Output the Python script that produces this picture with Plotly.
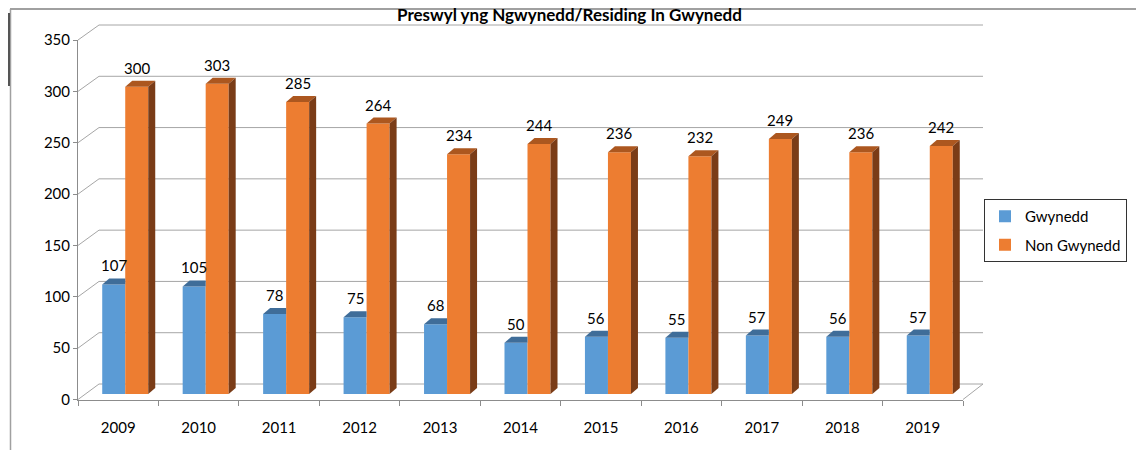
import plotly.graph_objects as go

# ---------------- data ----------------
years = ["2009", "2010", "2011", "2012", "2013", "2014", "2015", "2016", "2017", "2018", "2019"]
gwynedd = [107, 105, 78, 75, 68, 50, 56, 55, 57, 56, 57]
non_gwynedd = [300, 303, 285, 264, 234, 244, 236, 232, 249, 236, 242]
y_ticks = [0, 50, 100, 150, 200, 250, 300, 350]
series_names = ["Gwynedd", "Non Gwynedd"]
title_text = "Preswyl yng Ngwynedd/Residing In Gwynedd"

# ---------------- geometry (pixels) ----------------
W, H = 1136, 450
FONT = "Lato"
FS = 15


def px(x):
    return x / W


def py(y):
    return 1 - y / H


YMAX = 350
FRONT_L, FRONT_R = 78, 963      # front x-axis
FRONT_ZERO, FRONT_TOP = 399.5, 40   # front y-axis (0 and 350)
BACK_L, BACK_R = 99, 983        # back wall
BACK_ZERO, BACK_TOP = 384, 25
BAR_SHIFT = 7                   # bars sit 1/3 into the depth
BAR_ZERO, BAR_TOP = 394, 35.5
DEPTH_X, DEPTH_Y = 7, 6         # visible depth of each bar
BAR_W = 0.286

n = len(years)
idx = list(range(n))
cat_px = (FRONT_R - FRONT_L) / n
dx = DEPTH_X / cat_px
dy = DEPTH_Y * YMAX / (BAR_ZERO - BAR_TOP)

BLUE, BLUE_TOP = "#5B9BD5", "#3F6D99"
ORANGE, ORANGE_TOP, ORANGE_SIDE = "#ED7D31", "#AC571F", "#7A3C17"
GRID = "#A6A6A6"
AXIS = "#8C8C8C"


def fy(v):
    return FRONT_ZERO - v * (FRONT_ZERO - FRONT_TOP) / YMAX


def by(v):
    return BACK_ZERO - v * (BACK_ZERO - BACK_TOP) / YMAX


fig = go.Figure()

fig.add_trace(go.Bar(
    x=idx, y=gwynedd, name=series_names[0], width=BAR_W, offset=-BAR_W,
    marker=dict(color=BLUE, line=dict(width=0)), xaxis="x", yaxis="y",
    legendgroup="g1", hovertext=years,
))
fig.add_trace(go.Bar(
    x=idx, y=non_gwynedd, name=series_names[1], width=BAR_W, offset=0,
    marker=dict(color=ORANGE, line=dict(width=0)), xaxis="x", yaxis="y",
    legendgroup="g2", hovertext=years,
))
# invisible carrier trace for the front (labelled) axes
fig.add_trace(go.Scatter(
    x=years, y=gwynedd, mode="markers", marker=dict(opacity=0),
    xaxis="x2", yaxis="y2", showlegend=False, hoverinfo="skip",
))

shapes = []
# back wall gridlines + left wall diagonals
for v in y_ticks:
    shapes.append(dict(type="line", xref="paper", yref="paper",
                       x0=px(BACK_L), x1=px(BACK_R), y0=py(by(v)), y1=py(by(v)),
                       line=dict(color=GRID, width=1), layer="below"))
    shapes.append(dict(type="line", xref="paper", yref="paper",
                       x0=px(FRONT_L), x1=px(BACK_L), y0=py(fy(v)), y1=py(by(v)),
                       line=dict(color=GRID, width=1), layer="below"))
# floor right diagonal
shapes.append(dict(type="line", xref="paper", yref="paper",
                   x0=px(FRONT_R), x1=px(BACK_R), y0=py(fy(0)), y1=py(by(0)),
                   line=dict(color=GRID, width=1), layer="below"))
# chart border
shapes.append(dict(type="line", xref="paper", yref="paper",
                   x0=px(10), x1=1, y0=py(9), y1=py(9),
                   line=dict(color="#A0A0A0", width=2)))
shapes.append(dict(type="line", xref="paper", yref="paper",
                   x0=px(10.5), x1=px(10.5), y0=py(9), y1=0,
                   line=dict(color="#A0A0A0", width=1.5)))
shapes.append(dict(type="line", xref="paper", yref="paper",
                   x0=px(9), x1=px(9), y0=py(13), y1=py(86),
                   line=dict(color="#555555", width=2)))

# 3-D faces of the bars
for i, (b, o) in enumerate(zip(gwynedd, non_gwynedd)):
    shapes.append(dict(type="path", xref="x", yref="y",
                       path=f"M {i-BAR_W},{b} L {i},{b} L {i},{b+dy} L {i-BAR_W+dx},{b+dy} Z",
                       fillcolor=BLUE_TOP, line=dict(width=0), layer="above"))
    shapes.append(dict(type="path", xref="x", yref="y",
                       path=f"M {i},{o} L {i+BAR_W},{o} L {i+BAR_W+dx},{o+dy} L {i+dx},{o+dy} Z",
                       fillcolor=ORANGE_TOP, line=dict(width=0), layer="above"))
    shapes.append(dict(type="path", xref="x", yref="y",
                       path=f"M {i+BAR_W},0 L {i+BAR_W+dx},{dy} L {i+BAR_W+dx},{o+dy} L {i+BAR_W},{o} Z",
                       fillcolor=ORANGE_SIDE, line=dict(width=0), layer="above"))

annotations = []
for i, (b, o) in enumerate(zip(gwynedd, non_gwynedd)):
    annotations.append(dict(x=i - BAR_W / 2, y=b, xref="x", yref="y", text=str(b),
                            showarrow=False, yanchor="bottom", yshift=8,
                            font=dict(family=FONT, size=FS, color="#000000")))
    annotations.append(dict(x=i + BAR_W / 2, y=o, xref="x", yref="y", text=str(o),
                            showarrow=False, yanchor="bottom", yshift=8,
                            font=dict(family=FONT, size=FS, color="#000000")))
annotations.append(dict(x=px(569), y=py(15), xref="paper", yref="paper",
                        text=f"<b>{title_text}</b>", showarrow=False,
                        xanchor="center", yanchor="middle",
                        font=dict(family=FONT, size=17, color="#000000")))

fig.update_layout(
    width=W, height=H, autosize=False,
    margin=dict(l=0, r=0, t=0, b=0, pad=0, autoexpand=False),
    paper_bgcolor="white", plot_bgcolor="rgba(0,0,0,0)",
    font=dict(family=FONT, size=FS, color="#000000"),
    barmode="overlay",
    showlegend=True,
    legend=dict(x=px(1127), xanchor="right", y=py(199), yanchor="top",
                bordercolor="#333333", borderwidth=1, bgcolor="white",
                font=dict(family=FONT, size=FS), traceorder="grouped",
                tracegroupgap=6),
    xaxis=dict(domain=[px(FRONT_L + BAR_SHIFT), px(FRONT_R + BAR_SHIFT)],
               range=[-0.5, n - 0.5], visible=False, fixedrange=True),
    yaxis=dict(domain=[py(BAR_ZERO), py(BAR_TOP)], range=[0, YMAX],
               visible=False, fixedrange=True),
    xaxis2=dict(domain=[px(FRONT_L), px(FRONT_R)], type="category",
                categoryorder="array", categoryarray=years, range=[-0.5, n - 0.5],
                anchor="y2", showline=True, linecolor=AXIS, linewidth=1,
                ticks="outside", tickson="boundaries", ticklen=5, tickcolor=AXIS,
                showgrid=False, zeroline=False, ticklabelstandoff=14, automargin=False,
                tickfont=dict(family=FONT, size=FS, color="#000000")),
    yaxis2=dict(domain=[py(FRONT_ZERO), py(FRONT_TOP)], range=[0, YMAX],
                anchor="x2", tickvals=y_ticks, showline=True, linecolor=AXIS,
                linewidth=1, ticks="outside", ticklen=4, tickcolor=AXIS,
                showgrid=False, zeroline=False, automargin=False,
                tickfont=dict(family=FONT, size=FS, color="#000000")),
    shapes=shapes,
    annotations=annotations,
)

fig.write_html(
    "out.html",
    config={"responsive": False, "displayModeBar": False},
    post_script="document.body.style.margin='0';document.body.style.overflow='hidden';",
)
